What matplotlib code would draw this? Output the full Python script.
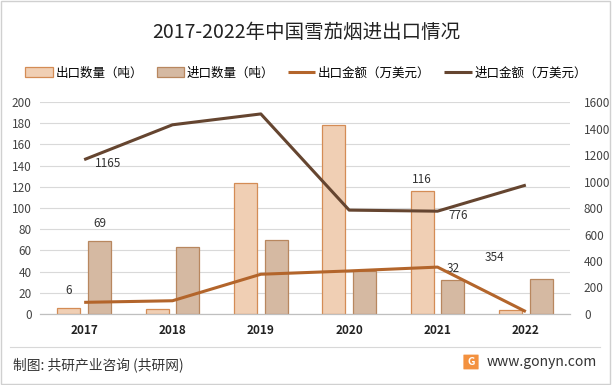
import matplotlib
matplotlib.use("Agg")
import matplotlib.pyplot as plt
import numpy as np
from matplotlib.patches import Rectangle, FancyBboxPatch

plt.rcParams['font.family'] = ['Noto Sans CJK SC', 'DejaVu Sans']

years = ['2017', '2018', '2019', '2020', '2021', '2022']
export_qty = [6, 5, 124, 178, 116, 4]
import_qty = [69, 63, 70, 41, 32, 33]
export_amt = [88, 100, 300, 325, 354, 18]
import_amt = [1165, 1428, 1510, 784, 776, 973]

c_exp_fill = '#F0CFB4'
c_exp_edge = '#D48C55'
c_imp_fill = '#D5B9A2'
c_imp_edge = '#B8875F'
c_exp_line = '#B3652B'
c_imp_line = '#654530'

fig = plt.figure(figsize=(6.12, 3.85), dpi=100)
ax = fig.add_axes([40/612, (385-314)/385, 530/612, 212/385])
ax2 = ax.twinx()

x = np.arange(len(years))
w = 0.26
off = 0.175
b1 = ax.bar(x - off, export_qty, w, color=c_exp_fill, edgecolor=c_exp_edge, linewidth=0.9, label='出口数量（吨）', zorder=2)
b2 = ax.bar(x + off, import_qty, w, color=c_imp_fill, edgecolor=c_imp_edge, linewidth=0.9, label='进口数量（吨）', zorder=2)
l1, = ax2.plot(x, export_amt, color=c_exp_line, lw=2.2, label='出口金额（万美元）', solid_capstyle='butt')
l2, = ax2.plot(x, import_amt, color=c_imp_line, lw=2.2, label='进口金额（万美元）', solid_capstyle='butt')

ax.set_xlim(-0.5, 5.5)
ax.set_ylim(0, 200)
ax2.set_ylim(0, 1600)
ax.set_yticks(np.arange(0, 201, 20))
ax2.set_yticks(np.arange(0, 1601, 200))
ax.set_xticks(x)
ax.set_xticklabels(years, fontweight='bold', fontsize=8.5, color='#222222')
ax.grid(axis='y', color='#D9D9D9', lw=0.8, zorder=0)
ax.set_axisbelow(True)
for a in (ax, ax2):
    for s in ['top', 'left', 'right']:
        a.spines[s].set_visible(False)
    a.spines['bottom'].set_color('#BFBFBF')
    a.tick_params(length=0, labelsize=8.5, colors='#444444')
ax.tick_params(axis='x', pad=7, colors='#222222')
ax2.tick_params(axis='y', pad=10)
ax.tick_params(axis='y', pad=6)

# data labels
fs = 8.5
ax.annotate(str(export_qty[0]), (x[0] - off, export_qty[0]), xytext=(0, 10), textcoords='offset points', ha='center', fontsize=fs, color='#333333')
ax.annotate(str(import_qty[0]), (x[0] + off, import_qty[0]), xytext=(0, 10), textcoords='offset points', ha='center', fontsize=fs, color='#333333')
ax.annotate(str(export_qty[4]), (x[4] - off, export_qty[4]), xytext=(0, 6), textcoords='offset points', ha='center', fontsize=fs, color='#333333')
ax.annotate(str(import_qty[4]), (x[4] + off, import_qty[4]), xytext=(0, 6), textcoords='offset points', ha='center', fontsize=fs, color='#333333')
ax2.annotate(str(import_amt[0]), (x[0], import_amt[0]), xytext=(8, -3), textcoords='offset points', ha='left', va='center', fontsize=fs, color='#333333')
ax2.annotate(str(import_amt[4]), (x[4], import_amt[4]), xytext=(8, -3), textcoords='offset points', ha='left', va='center', fontsize=fs, color='#333333')
ax2.annotate(str(export_amt[4]), (x[4], export_amt[4]), xytext=(34, 7), textcoords='offset points', ha='left', va='center', fontsize=fs, color='#333333')

fig.text(0.5, 1 - 32/385, '2017-2022年中国雪茄烟进出口情况', ha='center', va='center', fontsize=14, color='#222222')
fig.legend(handles=[b1, b2, l1, l2], loc='center', bbox_to_anchor=(0.5, 1 - 73/385), ncol=4, frameon=False,
           fontsize=9.0, handlelength=2.2, handleheight=0.8, columnspacing=1.1, handletextpad=0.2)

# footer
fig.add_artist(plt.Line2D([10/612, 600/612], [1 - 347/385, 1 - 347/385], color='#D8D8D8', lw=0.8))
fig.text(13/612, 1 - 365/385, '制图: 共研产业咨询 (共研网)', ha='left', va='center', fontsize=9.9, color='#333333')
fig.text(597/612, 1 - 362/385, 'www.gonyn.com', ha='right', va='center', fontsize=10, color='#333333')
fig.add_artist(FancyBboxPatch((464/612, 1 - 369/385), 14/612, 14/385, boxstyle='round,pad=0.001', transform=fig.transFigure, facecolor='#F3913F', edgecolor='none'))
fig.text(471/612, 1 - 362/385, 'G', ha='center', va='center', fontsize=7.5, color='white', fontweight='bold')

# outer border
fig.add_artist(Rectangle((0.002, 0.003), 0.995, 0.994, transform=fig.transFigure, fill=False, edgecolor='#D0D0D0', lw=1))

fig.savefig('out.png', dpi=100)
